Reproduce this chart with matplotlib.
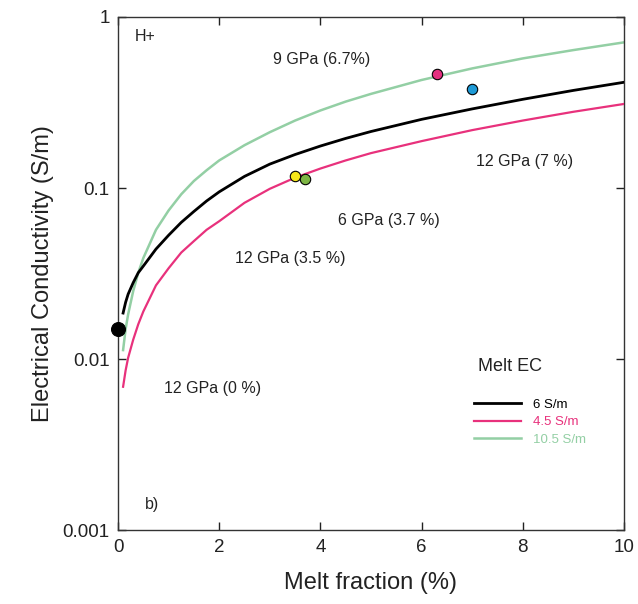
import matplotlib
matplotlib.use("Agg")
import matplotlib.pyplot as plt
from matplotlib.ticker import FixedLocator, NullLocator

plt.rcParams["font.family"] = ["Liberation Sans", "DejaVu Sans"]

# melt fraction (%) where the model curves were read
melt = [0.1, 0.15, 0.2, 0.3, 0.4, 0.5, 0.75, 1, 1.25, 1.5, 1.75, 2, 2.5,
        3, 3.5, 4, 4.5, 5, 6, 7, 8, 9, 10]
ec_6 = [0.0186, 0.0215, 0.024, 0.028, 0.032, 0.035, 0.044, 0.053, 0.063,
        0.073, 0.084, 0.095, 0.117, 0.138, 0.157, 0.176, 0.195, 0.214,
        0.252, 0.29, 0.33, 0.372, 0.415]
ec_4_5 = [0.0069, 0.0086, 0.0102, 0.013, 0.016, 0.019, 0.027, 0.034, 0.042,
          0.049, 0.057, 0.064, 0.082, 0.099, 0.115, 0.13, 0.145, 0.16,
          0.188, 0.218, 0.248, 0.279, 0.31]
ec_10_5 = [0.0113, 0.015, 0.0183, 0.025, 0.032, 0.039, 0.057, 0.074, 0.092,
           0.11, 0.127, 0.145, 0.178, 0.212, 0.248, 0.284, 0.32, 0.355,
           0.428, 0.50, 0.572, 0.64, 0.71]

# measured points
pt_x = [0.0, 3.5, 3.7, 6.3, 7.0]
pt_y = [0.015, 0.118, 0.113, 0.462, 0.377]
pt_col = ["black", "#f6e61a", "#7db544", "#e3307f", "#1e9ad6"]
pt_ms = [10, 7.5, 7.5, 7.5, 7.5]

labels = ["H+", "9 GPa (6.7%)", "12 GPa (7 %)", "6 GPa (3.7 %)",
          "12 GPa (3.5 %)", "12 GPa (0 %)", "b)"]
lab_x = [0.34, 4.03, 8.04, 5.36, 3.4, 1.86, 0.53]
lab_y = [0.77, 0.566, 0.142, 0.0649, 0.0387, 0.00675, 0.00142]

fig = plt.figure(figsize=(6.38, 6.04), dpi=100)
ax = fig.add_axes([0.185, 0.122, 0.793, 0.85])

ax.plot(melt, ec_6, color="black", lw=2.0, label="6 S/m", zorder=3)
ax.plot(melt, ec_4_5, color="#e8317c", lw=1.6, label="4.5 S/m", zorder=3)
ax.plot(melt, ec_10_5, color="#93cfa4", lw=1.8, label="10.5 S/m", zorder=2)

for x, y, c, ms in zip(pt_x, pt_y, pt_col, pt_ms):
    ax.plot(x, y, "o", color=c, mec="black", mew=0.8, ms=ms, zorder=5,
            clip_on=False)

for i, (t, x, y) in enumerate(zip(labels, lab_x, lab_y)):
    ha = "left" if i in (0, 6) else "center"
    ax.text(x, y, t, ha=ha, va="center", fontsize=11.5, color="#222222")
ax.text(7.75, 0.0091, "Melt EC", ha="center", va="center", fontsize=13,
        color="#222222")

ax.set_yscale("log")
ax.set_xlim(0, 10)
ax.set_ylim(0.001, 1)
ax.yaxis.set_major_locator(FixedLocator([0.001, 0.01, 0.1, 1]))
ax.yaxis.set_minor_locator(NullLocator())
ax.set_yticklabels(["0.001", "0.01", "0.1", "1"])
ax.set_xticks([0, 2, 4, 6, 8, 10])
ax.tick_params(direction="in", length=6, width=1, top=True, right=True,
               labelsize=13.5, colors="#222222", pad=6)
for s in ax.spines.values():
    s.set_linewidth(1.0)
    s.set_color("#333333")

ax.set_xlabel("Melt fraction (%)", fontsize=17, color="#222222", labelpad=12)
ax.set_ylabel("Electrical Conductivity (S/m)", fontsize=17, color="#222222",
              labelpad=6)

leg = ax.legend(loc="upper left", bbox_to_anchor=(0.68, 0.28), frameon=False,
                fontsize=9.5, handlelength=3.6, handletextpad=0.9,
                labelspacing=0.4)
for txt, c in zip(leg.get_texts(), ["black", "#e8317c", "#93cfa4"]):
    txt.set_color(c)

fig.savefig("out.png", dpi=100)
